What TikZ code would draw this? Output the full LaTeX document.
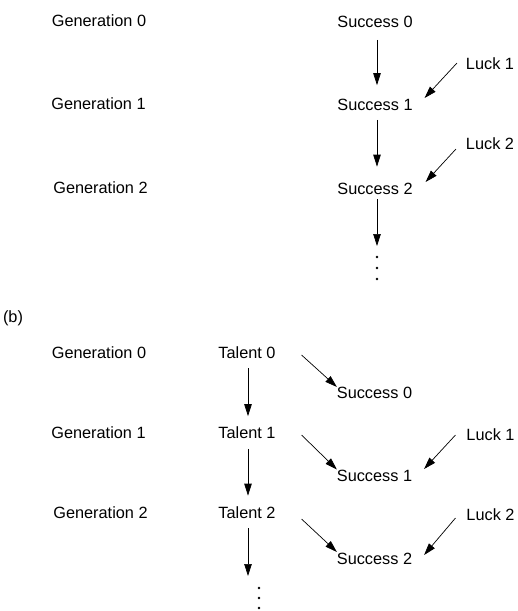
\documentclass[tikz,border=0pt]{standalone}
\usepackage{fontspec}
\setmainfont{Liberation Sans}
\usetikzlibrary{arrows.meta}
\begin{document}
\begin{tikzpicture}[x=1pt,y=-1pt,
  lbl/.style={inner sep=0pt,outer sep=0pt,font=\fontsize{16.3}{19}\selectfont,text height=11.7pt,text depth=0pt},
  arr/.style={line width=0.7pt,-{Triangle[length=12pt,width=7.5pt]}},
  dotstyle/.style={fill=black}]
\useasboundingbox (0,0) rectangle (518,611);
% ---------- (a) ----------
\node[lbl] (g0) at (99,21) {Generation 0};
\node[lbl] (g1) at (98.5,104) {Generation 1};
\node[lbl] (g2) at (100.5,187.5) {Generation 2};
\node[lbl] (s0) at (375,22) {Success 0};
\node[lbl] (s1) at (375,105) {Success 1};
\node[lbl] (s2) at (375,188.5) {Success 2};
\node[lbl] (l1) at (490,63.5) {Luck 1};
\node[lbl] (l2) at (490,144) {Luck 2};
\coordinate (dA) at (377,268);
\draw[arr] ([shift={(2pt,-12pt)}]s0.south) -- ([shift={(2pt,14pt)}]s1.north);
\draw[arr] ([shift={(2pt,-9pt)}]s1.south) -- ([shift={(2pt,16pt)}]s2.north);
\draw[arr] ([shift={(2pt,-5pt)}]s2.south) -- ([yshift=22pt]dA);
\draw[arr] ([shift={(-9pt,0.5pt)}]l1.west) -- ([shift={(12pt,7pt)}]s1.east);
\draw[arr] ([shift={(-10pt,-5pt)}]l2.west) -- ([shift={(13pt,6.5pt)}]s2.east);
\fill[dotstyle] ([yshift=11pt]dA) circle (1.3pt);
\fill[dotstyle] (dA) circle (1.3pt);
\fill[dotstyle] ([yshift=-11pt]dA) circle (1.3pt);
% ---------- (b) ----------
\node[lbl,text depth=3pt] (b) at (13,318) {(b)};
\node[lbl] (bg0) at (99,353) {Generation 0};
\node[lbl] (bg1) at (98.5,432.5) {Generation 1};
\node[lbl] (bg2) at (100.5,512.5) {Generation 2};
\node[lbl] (t0) at (247,352.5) {Talent 0};
\node[lbl] (t1) at (247,433) {Talent 1};
\node[lbl] (t2) at (247,512.5) {Talent 2};
\node[lbl] (bs0) at (374.5,392.5) {Success 0};
\node[lbl] (bs1) at (374.5,476) {Success 1};
\node[lbl] (bs2) at (374.5,559) {Success 2};
\node[lbl] (bl1) at (490.5,435) {Luck 1};
\node[lbl] (bl2) at (490.5,515) {Luck 2};
\coordinate (dB) at (259,598);
\draw[arr] ([shift={(1pt,-10pt)}]t0.south) -- ([shift={(1pt,11pt)}]t1.north);
\draw[arr] ([shift={(1pt,-10pt)}]t1.south) -- ([shift={(1pt,11pt)}]t2.north);
\draw[arr] ([shift={(1pt,-10pt)}]t2.south) -- ([shift={(-11pt,22pt)}]dB);
\draw[arr] ([shift={(26pt,-2.5pt)}]t0.east) -- ([shift={(0pt,5.5pt)}]bs0.west);
\draw[arr] ([shift={(26pt,-2pt)}]t1.east) -- ([shift={(0pt,6.5pt)}]bs1.west);
\draw[arr] ([shift={(26pt,-6.5pt)}]t2.east) -- ([shift={(0pt,7pt)}]bs2.west);
\draw[arr] ([shift={(-11pt,0pt)}]bl1.west) -- ([shift={(12pt,7pt)}]bs1.east);
\draw[arr] ([shift={(-11pt,-3pt)}]bl2.west) -- ([shift={(12pt,4pt)}]bs2.east);
\fill[dotstyle] ([yshift=10pt]dB) circle (1.3pt);
\fill[dotstyle] (dB) circle (1.3pt);
\fill[dotstyle] ([yshift=-10pt]dB) circle (1.3pt);
\end{tikzpicture}
\end{document}
